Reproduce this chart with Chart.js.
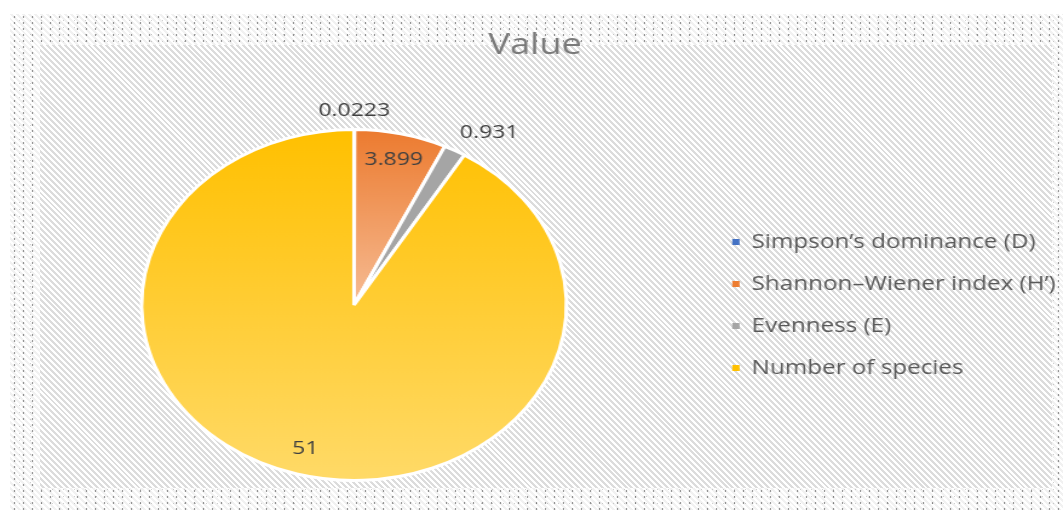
<!DOCTYPE html>
<html>
<head>
<meta charset="utf-8">
<script src="https://cdn.jsdelivr.net/npm/chart.js@4.4.1/dist/chart.umd.min.js"></script>
<style>
  html, body { margin: 0; padding: 0; background: #fff; }
  body { width: 1063px; height: 510px; position: relative; overflow: hidden; font-family: "Open Sans", sans-serif; }
  #outer {
    position: absolute; left: 10px; top: 14px; width: 1053px; height: 496px;
    background:
      radial-gradient(circle, rgba(70,70,70,0.55) 0.6px, transparent 1.2px) 0 0 / 9px 6px,
      radial-gradient(circle, rgba(120,120,120,0.35) 0.5px, transparent 1px) 4px 3px / 11px 7px,
      repeating-linear-gradient(45deg, #fff 0px, #fff 2.1px, #f1f1f1 2.1px, #f1f1f1 4.2px);
  }
  #inner {
    position: absolute; left: 40px; top: 45px; width: 1012px; height: 443px;
    background: repeating-linear-gradient(45deg, #fff 0px, #fff 2.1px, #dcdcdc 2.1px, #dcdcdc 4.2px);
  }
  #wrap { position: absolute; left: 0; top: 0; transform: scaleX(1.2107); transform-origin: 0 0; }
  canvas { display: block; }
</style>
</head>
<body>
<div id="outer"></div>
<div id="inner"></div>
<div id="wrap"><canvas id="chart" width="878" height="510"></canvas></div>
<script>
const labels = ['Simpson’s dominance (D)', 'Shannon–Wiener index (H’)', 'Evenness (E)', 'Number of species'];
const values = [0.0223, 3.899, 0.931, 51];
const colors = ['#4472C4', '#ED7D31', '#A5A5A5', '#FFC000'];
const labelInside = [false, true, false, true];

function sliceFill(context) {
  const i = context.dataIndex;
  const area = context.chart.chartArea;
  if (!area) return colors[i];
  const ctx = context.chart.ctx;
  if (i === 3) {
    const g = ctx.createLinearGradient(0, area.top, 0, area.bottom);
    g.addColorStop(0, '#FFC000');
    g.addColorStop(1, '#FFDA68');
    return g;
  }
  if (i === 1) {
    const g = ctx.createLinearGradient(0, area.top, 0, (area.top + area.bottom) / 2);
    g.addColorStop(0, '#EC7A2E');
    g.addColorStop(1, '#F6BC94');
    return g;
  }
  return colors[i];
}

// value labels, placed from each arc's own geometry
const valueLabels = {
  id: 'valueLabels',
  afterDatasetsDraw(chart) {
    const ctx = chart.ctx;
    const meta = chart.getDatasetMeta(0);
    ctx.save();
    ctx.font = '19px "Open Sans"';
    ctx.fillStyle = '#404040';
    meta.data.forEach(function(arc, i) {
      const p = arc.getProps(['x', 'y', 'startAngle', 'endAngle', 'outerRadius'], true);
      const mid = (p.startAngle + p.endAngle) / 2;
      const c = Math.cos(mid), s = Math.sin(mid);
      let r;
      if (labelInside[i]) {
        r = p.outerRadius * 0.85;
        ctx.textAlign = 'center';
        ctx.textBaseline = 'middle';
      } else {
        r = p.outerRadius + 9;
        ctx.textAlign = Math.abs(c) < 0.2 ? 'center' : (c > 0 ? 'left' : 'right');
        ctx.textBaseline = s < 0 ? 'bottom' : 'top';
      }
      ctx.fillText(String(values[i]), p.x + c * r, p.y + s * r);
    });
    ctx.restore();
  }
};

const ctx = document.getElementById('chart').getContext('2d');
const pie = new Chart(ctx, {
  type: 'pie',
  data: {
    labels: labels,
    datasets: [{
      data: values,
      backgroundColor: sliceFill,
      borderColor: '#ffffff',
      borderWidth: 3,
    }],
  },
  options: {
    responsive: false,
    animation: false,
    layout: { padding: { top: 0, bottom: 28, left: 2, right: -4 } },
    plugins: {
      tooltip: { enabled: false },
      title: {
        display: true,
        text: 'Value',
        color: '#7a7a7a',
        font: { family: '"Open Sans"', size: 30, weight: 'normal', lineHeight: 1.2 },
        padding: { top: 27, bottom: 65 },
      },
      legend: {
        position: 'right',
        fullSize: false,
        maxWidth: 304,
        labels: {
          boxWidth: 6,
          boxHeight: 6,
          padding: 22,
          color: '#595959',
          font: { family: '"Open Sans"', size: 20 },
          generateLabels: function() {
            return labels.map(function(t, i) {
              return { text: t, fillStyle: colors[i], strokeStyle: colors[i], lineWidth: 0, hidden: false, index: i, fontColor: '#595959' };
            });
          },
        },
      },
    },
  },
  plugins: [valueLabels],
});
</script>
</body>
</html>
